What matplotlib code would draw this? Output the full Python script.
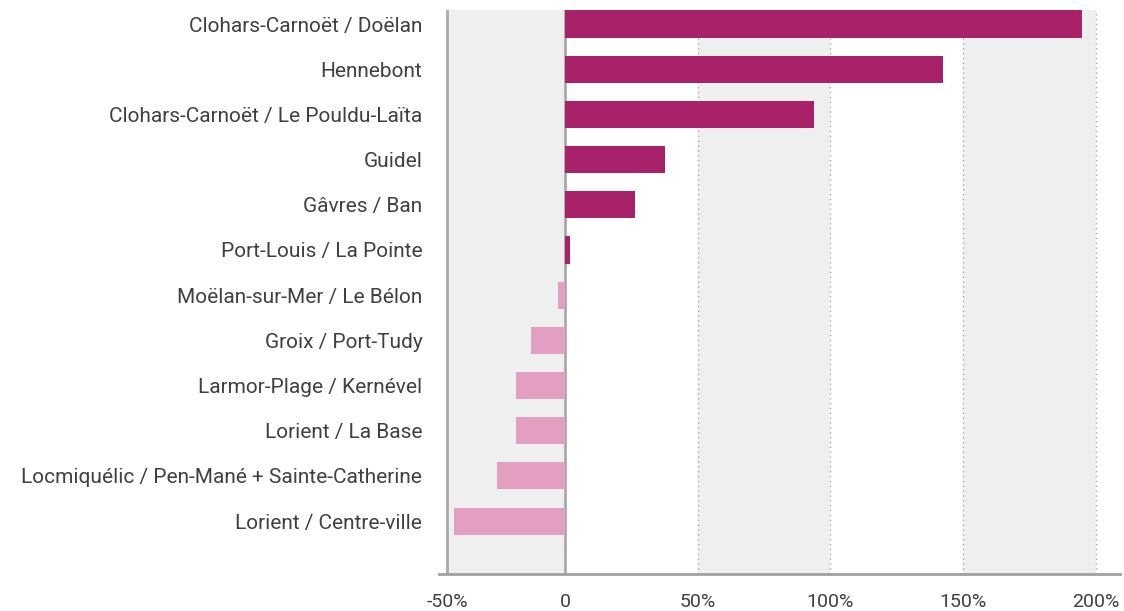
import matplotlib.pyplot as plt

# Data (change in %)
labels = ['Clohars-Carnoët / Doëlan', 'Hennebont', 'Clohars-Carnoët / Le Pouldu-Laïta',
          'Guidel', 'Gâvres / Ban', 'Port-Louis / La Pointe', 'Moëlan-sur-Mer / Le Bélon',
          'Groix / Port-Tudy', 'Larmor-Plage / Kernével', 'Lorient / La Base',
          'Locmiquélic / Pen-Mané + Sainte-Catherine', 'Lorient / Centre-ville']
values = [194.6, 142.3, 93.7, 37.6, 26.4, 1.9, -2.6, -12.8, -18.4, -18.4, -25.6, -41.8]
tick_values = [-44.4, 0, 50, 100, 150, 200]
tick_labels = ['-50%', '0', '50%', '100%', '150%', '200%']

plt.rcParams['font.family'] = ['Roboto', 'DejaVu Sans']

fig = plt.figure(figsize=(11.24, 6.11), dpi=100)
ax = fig.add_axes([439 / 1124, 1 - 574 / 611, (1120 - 439) / 1124, (574 - 10) / 611])

# Background bands
for lo, hi in [(-44.4, 0), (50, 100), (150, 200)]:
    ax.axvspan(lo, hi, color='#efefef', zorder=0, lw=0)

# Grid lines
for x in [50, 100, 150, 200]:
    ax.axvline(x, color='#aaaaaa', lw=1, ls=(0, (1, 2.5)), zorder=1)
ax.axvline(-44.4, color='#aaaaaa', lw=2, zorder=1)
ax.axvline(0, color='#aaaaaa', lw=2, zorder=1)

colors = ['#a8226a' if v >= 0 else '#e29fc2' for v in values]
ypos = list(range(len(labels)))
ax.barh(ypos, values, height=0.6, color=colors, zorder=2)

ax.set_ylim(len(labels) - 1 + 1.17, -0.31)
ax.set_xlim(-47.4, 209)

ax.set_yticks(ypos)
ax.set_yticklabels(labels, fontsize=15, color='#404040')
ax.set_xticks(tick_values)
ax.set_xticklabels(tick_labels, fontsize=14, color='#404040')
ax.tick_params(axis='y', length=0, pad=12)
ax.tick_params(axis='x', length=0, pad=14)

for s in ['top', 'right', 'left']:
    ax.spines[s].set_visible(False)
ax.spines['bottom'].set_color('#a0a0a0')
ax.spines['bottom'].set_linewidth(2)

fig.savefig('out.png', dpi=100)
